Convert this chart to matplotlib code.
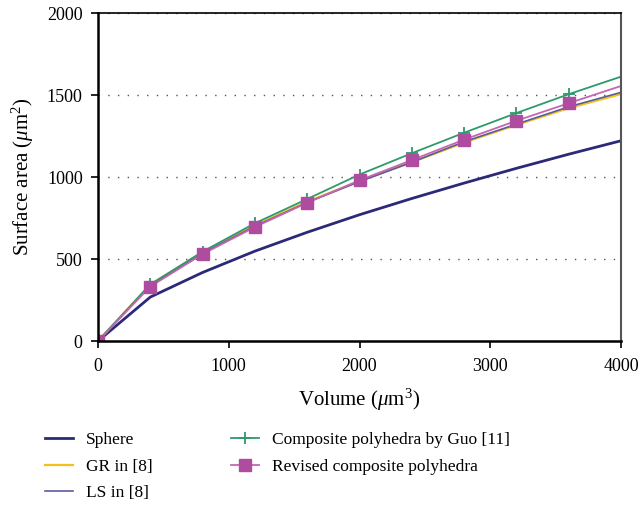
import matplotlib
matplotlib.use("Agg")
import matplotlib.pyplot as plt

plt.rcParams['font.family'] = ['Liberation Serif', 'DejaVu Serif']
plt.rcParams['mathtext.fontset'] = 'custom'
plt.rcParams['mathtext.rm'] = 'Liberation Serif'
plt.rcParams['mathtext.it'] = 'Liberation Serif:italic'

volume = [0, 400, 800, 1200, 1600, 2000, 2400, 2800, 3200, 3600, 4000]
sphere = [0, 268, 418, 548, 663, 770, 869, 963, 1053, 1139, 1221]
gr = [0, 345, 540, 705, 850, 975, 1090, 1210, 1318, 1420, 1506]
ls = [0, 340, 535, 700, 845, 972, 1090, 1215, 1322, 1428, 1516]
guo = [0, 345, 545, 718, 866, 1015, 1145, 1270, 1390, 1505, 1612]
revised = [0, 332, 530, 695, 843, 980, 1103, 1228, 1343, 1450, 1555]

labels = ['Sphere', 'GR in [8]', 'LS in [8]', 'Composite polyhedra by Guo [11]', 'Revised composite polyhedra']

fig = plt.figure(figsize=(6.41, 5.08), dpi=100)
ax = fig.add_axes([0.1529, 0.3287, 0.8159, 0.6457])

for yv in [500, 1000, 1500, 2000]:
    ax.axhline(yv, color='#555555', lw=1.0, ls=(0, (1, 6)), zorder=0)

ax.plot(volume, sphere, color='#2b2a78', lw=2.0, label=labels[0])
ax.plot(volume, gr, color='#f2c21b', lw=1.6, label=labels[1])
ax.plot(volume, ls, color='#5a5c9c', lw=1.2, label=labels[2])
ax.plot(volume, guo, color='#2e9a6c', lw=1.3, marker='+', ms=8, mew=1.3,
        markevery=slice(0, 10), label=labels[3])
ax.plot(volume, revised, color='#c466b4', lw=1.3, marker='s', ms=8,
        mfc='#b04ca0', mec='#b04ca0', markevery=slice(0, 10), label=labels[4])

ax.set_xlim(0, 4000)
ax.set_ylim(0, 2000)
ax.set_xticks([0, 1000, 2000, 3000, 4000])
ax.set_yticks([0, 500, 1000, 1500, 2000])
ax.tick_params(direction='out', length=5, width=1.2, labelsize=13, colors='black')
ax.tick_params(axis='x', pad=7)
ax.tick_params(axis='y', pad=6)
for s in ['left', 'bottom']:
    ax.spines[s].set_linewidth(1.8)
ax.spines['top'].set_linewidth(1.2)
ax.spines['right'].set_linewidth(1.5)
ax.spines['right'].set_color('#555555')

ax.set_xlabel('Volume ($\\mu$m$^3$)', fontsize=15, labelpad=9)
ax.set_ylabel('Surface area ($\\mu$m$^2$)', fontsize=15, labelpad=8)

fig.legend(loc='upper left', bbox_to_anchor=(0.06, 0.163), ncol=2, frameon=False,
           fontsize=12.5, handlelength=1.6, handletextpad=0.75, columnspacing=4.5,
           labelspacing=0.6, borderaxespad=0)

fig.savefig('out.png', dpi=100)
